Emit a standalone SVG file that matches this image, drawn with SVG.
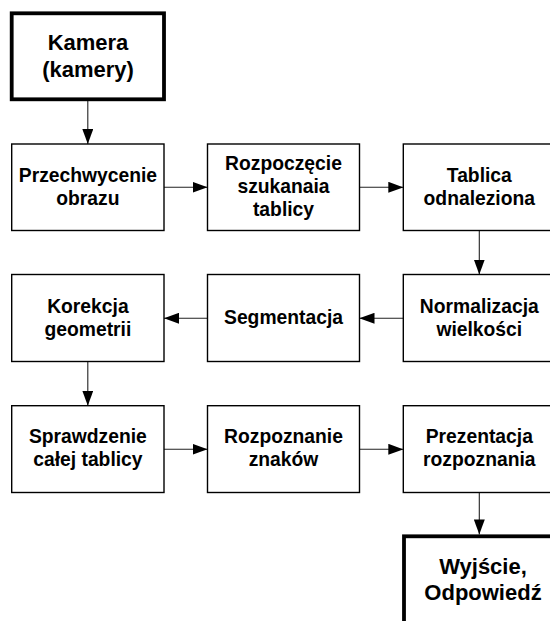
<svg xmlns="http://www.w3.org/2000/svg" width="550" height="621" viewBox="0 0 550 621">
<style>
.box{fill:#fff;stroke:#000;stroke-width:1.4}
.thick{fill:#fff;stroke:#000;stroke-width:3.8}
text{font-family:"Liberation Sans",Arial,sans-serif;font-weight:bold;font-size:19.3px;fill:#000;text-anchor:middle}
.big{font-size:22px}
.conn{stroke:#222;stroke-width:1.1;fill:none;marker-end:url(#ah)}
</style>
<defs>
<marker id="ah" markerWidth="15" markerHeight="11" refX="15" refY="5.5" orient="auto" markerUnits="userSpaceOnUse">
<path d="M0,0 L15,5.5 L0,11 Z" fill="#000"/>
</marker>
</defs>
<rect width="550" height="621" fill="#fff"/>
<g id="connectors">
<line class="conn" x1="87.8" y1="101" x2="87.8" y2="144"/>
<line class="conn" x1="164" y1="187.3" x2="207.5" y2="187.3"/>
<line class="conn" x1="359.5" y1="187.3" x2="403.3" y2="187.3"/>
<line class="conn" x1="479.3" y1="230.5" x2="479.3" y2="274.5"/>
<line class="conn" x1="403.3" y1="318.3" x2="359.5" y2="318.3"/>
<line class="conn" x1="207.5" y1="318.3" x2="164" y2="318.3"/>
<line class="conn" x1="87.8" y1="361.5" x2="87.8" y2="405.7"/>
<line class="conn" x1="164" y1="449.3" x2="207.5" y2="449.3"/>
<line class="conn" x1="359.5" y1="449.3" x2="403.3" y2="449.3"/>
<line class="conn" x1="479.3" y1="492.5" x2="479.3" y2="534.4"/>
</g>
<g id="kamera">
<rect class="thick" x="11.7" y="13.3" width="152.3" height="86"/>
<text class="big" x="88" y="50">Kamera</text>
<text class="big" x="88" y="77">(kamery)</text>
</g>
<g id="przechwycenie">
<rect class="box" x="11.7" y="144" width="152.3" height="86.5"/>
<text x="87.9" y="182">Przechwycenie</text>
<text x="87.9" y="205">obrazu</text>
</g>
<g id="rozpoczecie">
<rect class="box" x="207.5" y="144" width="152" height="86.5"/>
<text x="283.5" y="170">Rozpoczęcie</text>
<text x="283.5" y="193.3">szukanaia</text>
<text x="283.5" y="216.3">tablicy</text>
</g>
<g id="tablica">
<rect class="box" x="403.3" y="144" width="152" height="86.5"/>
<text x="479.3" y="182">Tablica</text>
<text x="479.3" y="205">odnaleziona</text>
</g>
<g id="normalizacja">
<rect class="box" x="403.3" y="274.5" width="152" height="87"/>
<text x="479.3" y="312.7">Normalizacja</text>
<text x="479.3" y="335.5">wielkości</text>
</g>
<g id="segmentacja">
<rect class="box" x="207.5" y="274.5" width="152" height="87"/>
<text x="283.5" y="323.5">Segmentacja</text>
</g>
<g id="korekcja">
<rect class="box" x="11.7" y="274.5" width="152.3" height="87"/>
<text x="87.9" y="312.7">Korekcja</text>
<text x="87.9" y="335.5">geometrii</text>
</g>
<g id="sprawdzenie">
<rect class="box" x="11.7" y="405.7" width="152.3" height="86.8"/>
<text x="87.9" y="443.3">Sprawdzenie</text>
<text x="87.9" y="466.2">całej tablicy</text>
</g>
<g id="rozpoznanie">
<rect class="box" x="207.5" y="405.7" width="152" height="86.8"/>
<text x="283.5" y="443.3">Rozpoznanie</text>
<text x="283.5" y="466.2">znaków</text>
</g>
<g id="prezentacja">
<rect class="box" x="403.3" y="405.7" width="152" height="86.8"/>
<text x="479.3" y="443.3">Prezentacja</text>
<text x="479.3" y="466.2">rozpoznania</text>
</g>
<g id="wyjscie">
<rect class="thick" x="404" y="536.3" width="180" height="120"/>
<text class="big" x="483" y="574">Wyjście,</text>
<text class="big" x="483" y="600">Odpowiedź</text>
</g>
</svg>
